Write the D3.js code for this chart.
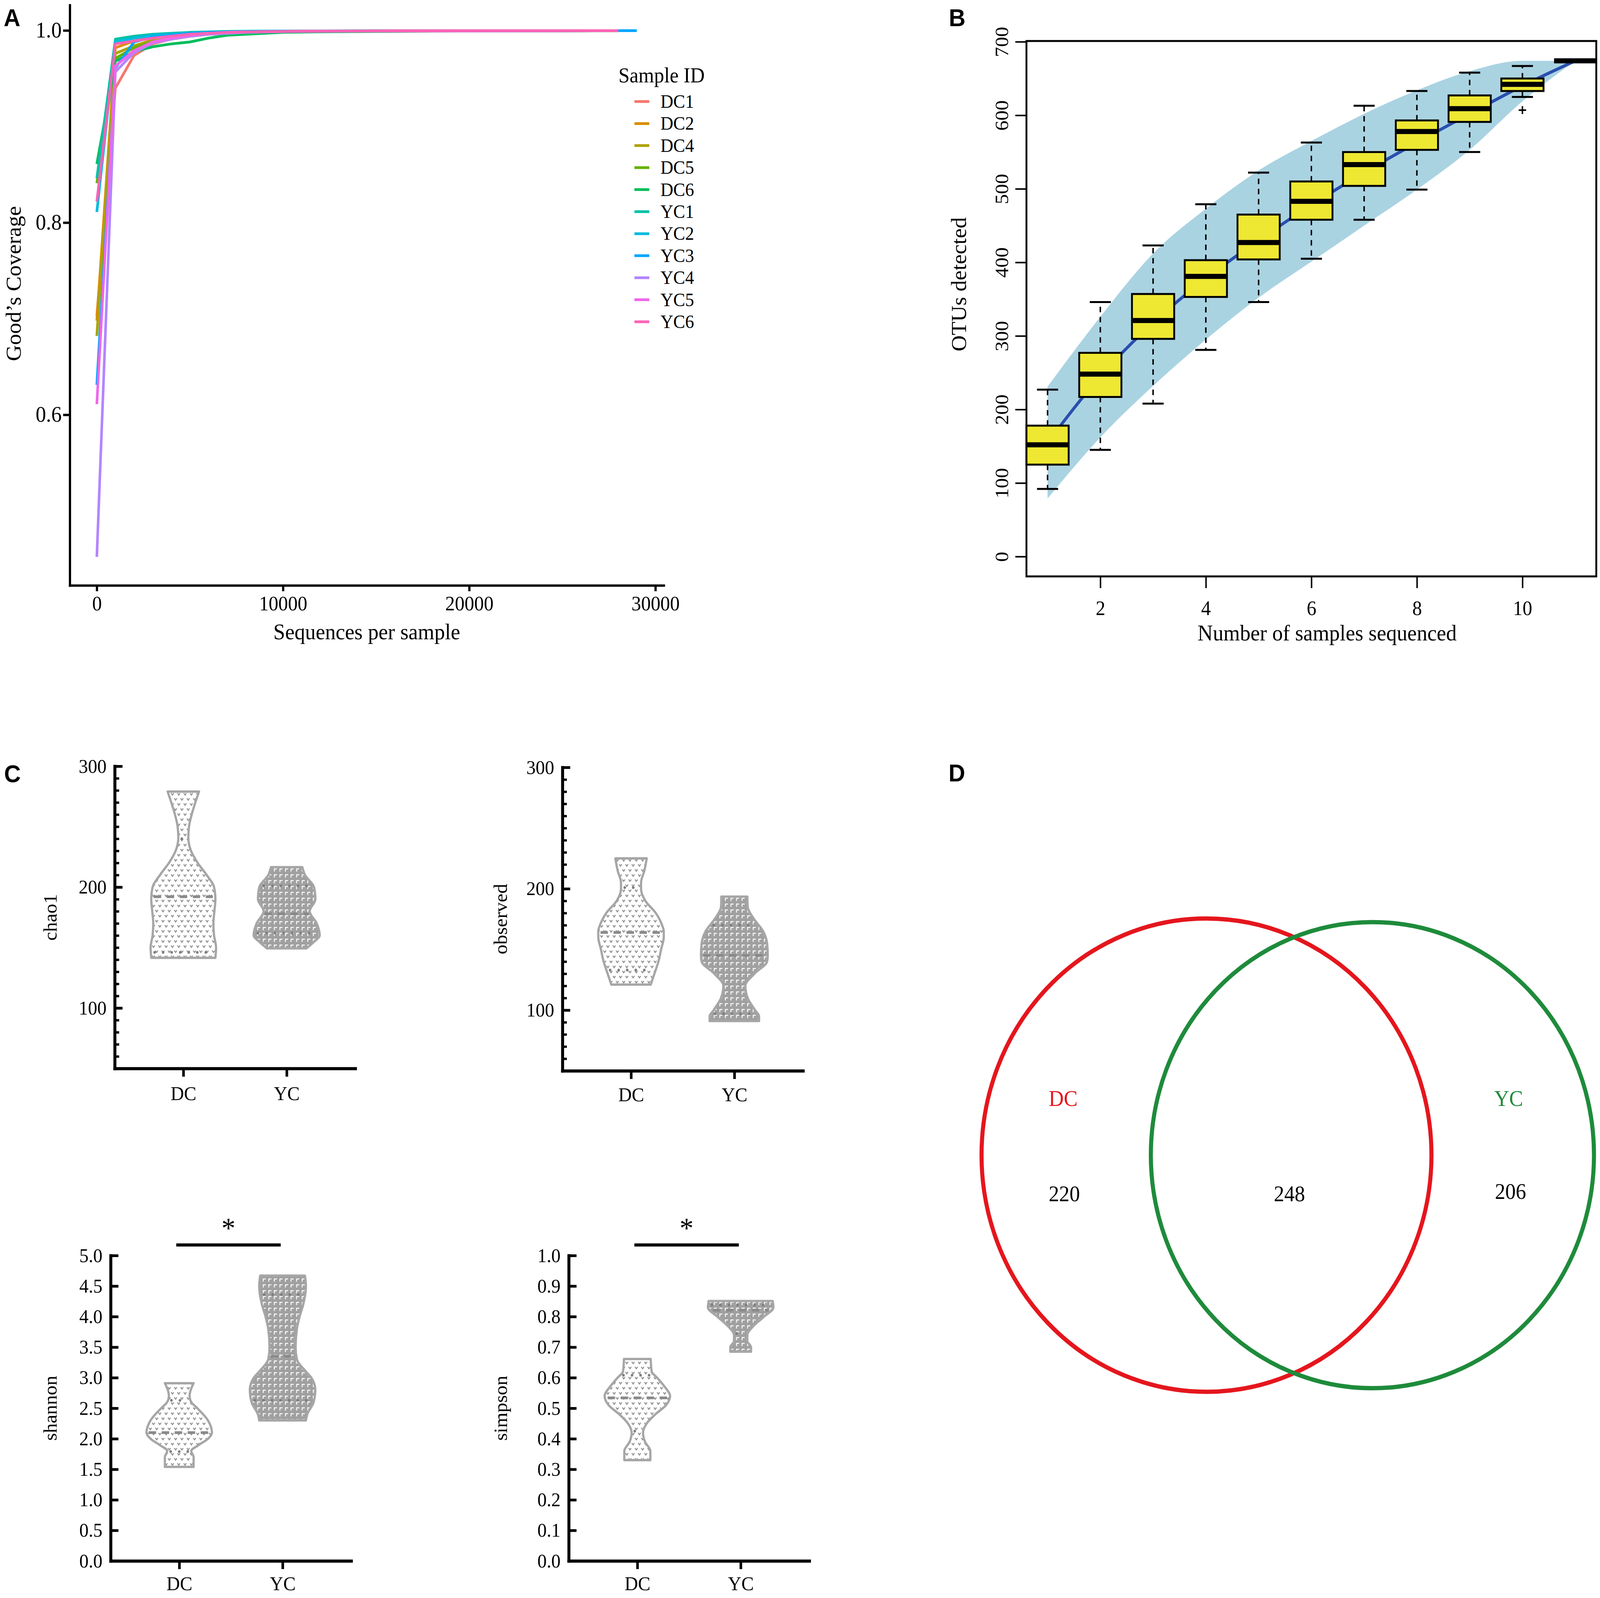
<!DOCTYPE html>
<html>
<head>
<meta charset="utf-8">
<title>Coverage, rarefaction, alpha diversity and Venn</title>
<script src="https://cdn.jsdelivr.net/npm/d3@7"></script>
<style>
  html, body { margin: 0; padding: 0; background: #fff; overflow: hidden; }
  #fig { display: block; width: 100vw; height: 100vh; }
  svg text { font-family: "Liberation Serif", "Times New Roman", serif; }
  svg text.letter { font-family: "Liberation Sans", Arial, sans-serif; font-weight: bold; }
</style>
</head>
<body>
<svg id="fig"></svg>
<script>
// ---------- panel A : Good's coverage ----------
const sampleIds = ['DC1','DC2','DC4','DC5','DC6','YC1','YC2','YC3','YC4','YC5','YC6'];
const sampleColors = ['#F8766D','#DB8E00','#AEA200','#64B200','#00BD5C','#00C1A7','#00BADE','#00A6FF','#B385FF','#EF67EB','#FF63B6'];
const depthsA = [1, 1000, 2000, 3000, 4000, 5000, 6000, 7000, 8000, 10000, 12000, 15000, 18000, 21000, 24000, 28000, 29000];
const cov_DC1 = [0.703, 0.940, 0.974, 0.986, 0.991, 0.994, 0.996, 0.997, 0.998, 0.9985, 0.999, 0.9992, 0.9994, 0.9995, 0.9996, 0.9997, null];
const cov_DC2 = [0.698, 0.982, 0.989, 0.993, 0.995, 0.997, 0.998, 0.9985, 0.999, 0.9992, 0.9994, 0.9995, 0.9996, 0.9997, 0.9997, 0.9998, null];
const cov_DC4 = [0.682, 0.976, 0.984, 0.990, 0.993, 0.995, 0.997, 0.998, 0.9985, 0.999, 0.9993, 0.9995, 0.9996, 0.9997, 0.9997, 0.9998, null];
const cov_DC5 = [0.841, 0.971, 0.982, 0.988, 0.991, 0.994, 0.996, 0.997, 0.998, 0.9988, 0.9992, 0.9994, 0.9995, 0.9996, 0.9997, 0.9998, null];
const cov_DC6 = [0.861, 0.968, 0.978, 0.983, 0.986, 0.988, 0.992, 0.995, 0.996, 0.998, 0.9986, 0.999, 0.9993, 0.9995, 0.9996, 0.9997, null];
const cov_YC1 = [0.846, 0.991, 0.994, 0.996, 0.997, 0.998, 0.9985, 0.999, 0.9992, 0.9994, 0.9995, 0.9996, 0.9997, 0.9997, 0.9998, 0.9998, null];
const cov_YC2 = [0.811, 0.988, 0.992, 0.995, 0.996, 0.997, 0.998, 0.9985, 0.999, 0.9992, 0.9994, 0.9995, 0.9996, 0.9997, 0.9997, 0.9998, null];
const cov_YC3 = [0.631, 0.961, 0.988, 0.993, 0.995, 0.997, 0.998, 0.9985, 0.999, 0.9992, 0.9994, 0.9995, 0.9996, 0.9997, 0.9997, 0.9998, 0.9998];
const cov_YC4 = [0.452, 0.957, 0.977, 0.987, 0.991, 0.994, 0.996, 0.997, 0.998, 0.9988, 0.9992, 0.9994, 0.9995, 0.9996, 0.9997, 0.9998, null];
const cov_YC5 = [0.611, 0.963, 0.979, 0.988, 0.992, 0.995, 0.997, 0.998, 0.9985, 0.999, 0.9993, 0.9995, 0.9996, 0.9997, 0.9997, 0.9998, null];
const cov_YC6 = [0.822, 0.986, 0.989, 0.992, 0.994, 0.996, 0.997, 0.998, 0.9985, 0.999, 0.9993, 0.9995, 0.9996, 0.9997, 0.9997, 0.9998, null];
const coverageRows = [cov_DC1, cov_DC2, cov_DC4, cov_DC5, cov_DC6, cov_YC1, cov_YC2, cov_YC3, cov_YC4, cov_YC5, cov_YC6];
const ticksAx = [0, 10000, 20000, 30000];
const ticksAy = [0.6, 0.8, 1.0];

// ---------- panel B : OTU accumulation boxplots ----------
const otuN          = [1, 2, 3, 4, 5, 6, 7, 8, 9, 10, 11];
const otuWhiskLow   = [92, 145, 208, 281, 346, 405, 458, 499, 550, 625, 674];
const otuQ1         = [125, 217, 296, 353, 404, 458, 504, 553, 591, 633, 674];
const otuMedian     = [152, 248, 321, 381, 427, 483, 533, 578, 609, 642, 674];
const otuQ3         = [178, 277, 357, 403, 465, 510, 550, 593, 627, 650, 674];
const otuWhiskHigh  = [227, 346, 423, 479, 522, 563, 613, 633, 658, 667, 674];
const otuOutliers   = [[10, 607]];
const otuMean       = [155, 245, 318, 378, 430, 478, 522, 563, 602, 640, 674];
const otuBandLow    = [79, 162, 232, 295, 352, 401, 450, 499, 553, 619, 674];
const otuBandHigh   = [231, 326, 412, 473, 525, 565, 602, 634, 660, 674, 674];
const ticksBx = [2, 4, 6, 8, 10];
const ticksBy = [0, 100, 200, 300, 400, 500, 600, 700];

// ---------- panel C : alpha diversity violins [value, relative density] ----------
const groupsC = ['DC', 'YC'];
const chao1DC = [[279,.47],[270,.36],[260,.25],[250,.17],[241,.15],[230,.23],[220,.43],[210,.70],[200,.92],[190,.96],[180,.93],[170,.90],[160,.92],[150,.98],[141.5,.96]];
const chao1YC = [[216.5,.47],[210,.55],[200,.82],[190,.86],[180,.69],[170,.90],[160,.99],[155,.83],[149.3,.59]];
const chao1Median = [192, 178];
const chao1Upper  = [240, 201];
const chao1Lower  = [146, 162];
const observedDC = [[225,.47],[215,.40],[205,.30],[200,.30],[190,.43],[180,.74],[170,.93],[165,.98],[160,.98],[150,.90],[140,.82],[130,.70],[121,.59]];
const observedYC = [[193.5,.39],[185,.40],[175,.59],[165,.86],[155,.98],[145,1.0],[140,.98],[130,.60],[120,.33],[110,.40],[100,.62],[95,.74],[91,.74]];
const observedMedian = [164, 145];
const observedUpper  = [201, 170];
const observedLower  = [133, 97];
const shannonDC = [[2.91,.43],[2.7,.31],[2.6,.36],[2.5,.54],[2.3,.86],[2.1,.98],[2.0,.86],[1.9,.59],[1.8,.36],[1.7,.43],[1.54,.43]];
const shannonYC = [[4.67,.67],[4.5,.70],[4.2,.62],[4.0,.51],[3.8,.43],[3.5,.39],[3.3,.43],[3.1,.70],[3.0,.86],[2.8,.98],[2.6,.93],[2.4,.74],[2.3,.70]];
const shannonMedian = [2.10, 3.35];
const shannonUpper  = [2.63, 4.36];
const shannonLower  = [1.79, 2.63];
const simpsonDC = [[.661,.40],[.62,.43],[.60,.59],[.57,.82],[.54,.98],[.51,.86],[.48,.54],[.45,.28],[.42,.17],[.39,.23],[.36,.39],[.33,.39]];
const simpsonYC = [[.851,.96],[.83,.98],[.80,.70],[.77,.39],[.74,.20],[.72,.20],[.70,.31],[.685,.31]];
const simpsonMedian = [.534, .821];
const simpsonUpper  = [.608, .838];
const simpsonLower  = [.425, .745];

// ---------- panel D : Venn ----------
const vennSets = ['DC', 'YC'];
const vennCounts = [220, 248, 206];   // DC only, shared, YC only

// drawing space is the reference's 4310 x 4092, stretched onto whatever the window gives
const W = 4310, H = 4092;
const svg = d3.select('#fig').attr('viewBox', `0 0 ${W} ${H}`).attr('preserveAspectRatio', 'none');

function styleAxis(g, fs, lw) {
  g.attr('font-size', fs).attr('font-family', null);
  g.select('.domain').attr('stroke-width', lw).attr('stroke-linecap', 'square');
  g.selectAll('.tick line').attr('stroke-width', lw);
  g.selectAll('.tick text').attr('fill', '#000');
}

svg.append('text').attr('class', 'letter').attr('x', 10).attr('y', 67).attr('font-size', 62).text('A');
svg.append('text').attr('class', 'letter').attr('x', 2556).attr('y', 67).attr('font-size', 62).text('B');
svg.append('text').attr('class', 'letter').attr('x', 11).attr('y', 2003).attr('font-size', 62).text('C');
svg.append('text').attr('class', 'letter').attr('x', 2555).attr('y', 2001).attr('font-size', 62).text('D');

// ================= A =================
const xA = d3.scaleLinear().domain([-1450, 30450]).range([188, 1788]);
const yA = d3.scaleLinear().domain([0.4224, 1.0264]).range([1499, 13]);
const seriesA = sampleIds.map((id, i) => ({
  id, color: sampleColors[i],
  values: coverageRows[i].map((v, j) => [depthsA[j], v])
}));
const lineA = d3.line().defined(d => d[1] != null).x(d => xA(d[0])).y(d => yA(d[1]));
const gA = svg.append('g');
gA.selectAll('path.cov').data(seriesA).join('path')
  .attr('class', 'cov')
  .attr('d', d => lineA(d.values))
  .attr('fill', 'none')
  .attr('stroke', d => d.color)
  .attr('stroke-width', 7)
  .attr('stroke-linejoin', 'round');

gA.append('g').attr('transform', `translate(0,${yA.range()[0]})`)
  .call(d3.axisBottom(xA).tickValues(ticksAx).tickFormat(d3.format('d')).tickSize(15).tickSizeOuter(0).tickPadding(12))
  .call(styleAxis, 52, 6);
gA.append('g').attr('transform', `translate(${xA.range()[0]},0)`)
  .call(d3.axisLeft(yA).tickValues(ticksAy).tickFormat(d3.format('.1f')).tickSize(18).tickSizeOuter(0).tickPadding(4))
  .call(styleAxis, 56, 6);

gA.append('text').attr('x', 988).attr('y', 1637).attr('text-anchor', 'middle').attr('font-size', 57).text('Sequences per sample');
gA.append('text').attr('transform', 'translate(56,726) rotate(-90)').attr('text-anchor', 'middle').attr('font-size', 57).text('Good\u2019s Coverage');

const legA = gA.append('g').attr('transform', 'translate(1666,0)');
legA.append('text').attr('x', 0).attr('y', 211).attr('font-size', 54).text('Sample ID');
const legItems = legA.selectAll('g.item').data(seriesA).join('g')
  .attr('class', 'item')
  .attr('transform', (d, i) => `translate(0,${260 + i * 56.4})`);
legItems.append('line').attr('x1', 43).attr('x2', 83).attr('stroke', d => d.color).attr('stroke-width', 7);
legItems.append('text').attr('x', 113).attr('y', 16).attr('font-size', 48).text(d => d.id);

// ================= B =================
const xB = d3.scaleLinear().domain([0.6, 11.4]).range([2765, 4300]);
const yB = d3.scaleLinear().domain([-27, 701]).range([1476, 105]);
const gB = svg.append('g');
const bandData = otuN.map((n, i) => [n, otuBandLow[i], otuBandHigh[i]]);
gB.append('path').datum(bandData)
  .attr('d', d3.area().x(d => xB(d[0])).y0(d => yB(d[1])).y1(d => yB(d[2])).curve(d3.curveMonotoneX))
  .attr('fill', '#aad3e2');
gB.append('path').datum(otuN.map((n, i) => [n, otuMean[i]]))
  .attr('d', d3.line().x(d => xB(d[0])).y(d => yB(d[1])).curve(d3.curveMonotoneX))
  .attr('fill', 'none').attr('stroke', '#2a4fae').attr('stroke-width', 8);

const boxes = otuN.map((n, i) => ({ n, lo: otuWhiskLow[i], q1: otuQ1[i], med: otuMedian[i], q3: otuQ3[i], hi: otuWhiskHigh[i] }));
const bw = xB(1.4) - xB(1);
const cw = xB(1.2) - xB(1);
const bx = gB.selectAll('g.box').data(boxes).join('g').attr('class', 'box');
bx.append('line').attr('x1', d => xB(d.n)).attr('x2', d => xB(d.n)).attr('y1', d => yB(d.q3)).attr('y2', d => yB(d.hi))
  .attr('stroke', '#000').attr('stroke-width', 4).attr('stroke-dasharray', '14 12');
bx.append('line').attr('x1', d => xB(d.n)).attr('x2', d => xB(d.n)).attr('y1', d => yB(d.q1)).attr('y2', d => yB(d.lo))
  .attr('stroke', '#000').attr('stroke-width', 4).attr('stroke-dasharray', '14 12');
bx.append('line').attr('x1', d => xB(d.n) - cw).attr('x2', d => xB(d.n) + cw).attr('y1', d => yB(d.hi)).attr('y2', d => yB(d.hi))
  .attr('stroke', '#000').attr('stroke-width', 5);
bx.append('line').attr('x1', d => xB(d.n) - cw).attr('x2', d => xB(d.n) + cw).attr('y1', d => yB(d.lo)).attr('y2', d => yB(d.lo))
  .attr('stroke', '#000').attr('stroke-width', 5);
bx.append('rect').attr('x', d => xB(d.n) - bw).attr('width', 2 * bw)
  .attr('y', d => yB(d.q3)).attr('height', d => yB(d.q1) - yB(d.q3))
  .attr('fill', '#eee832').attr('stroke', '#000').attr('stroke-width', 5);
bx.append('line').attr('x1', d => xB(d.n) - bw).attr('x2', d => xB(d.n) + bw).attr('y1', d => yB(d.med)).attr('y2', d => yB(d.med))
  .attr('stroke', '#000').attr('stroke-width', 13);
gB.selectAll('path.out').data(otuOutliers).join('path')
  .attr('class', 'out')
  .attr('d', d => `M${xB(d[0]) - 10},${yB(d[1])}h20M${xB(d[0])},${yB(d[1]) - 10}v20`)
  .attr('stroke', '#000').attr('stroke-width', 4);

gB.append('rect').attr('x', xB.range()[0]).attr('y', yB.range()[1])
  .attr('width', xB.range()[1] - xB.range()[0]).attr('height', yB.range()[0] - yB.range()[1])
  .attr('fill', 'none').attr('stroke', '#000').attr('stroke-width', 5);

const gyB = gB.append('g').attr('transform', `translate(${xB.range()[0]},0)`)
  .call(d3.axisLeft(yB).tickValues(ticksBy).tickSize(30).tickSizeOuter(0))
  .call(styleAxis, 52, 4);
gyB.select('.domain').remove();
gyB.selectAll('.tick text').attr('x', 0).attr('dy', 0).attr('text-anchor', 'middle').attr('transform', 'translate(-49,0) rotate(-90)');
const gxB = gB.append('g').attr('transform', `translate(0,${yB.range()[0]})`)
  .call(d3.axisBottom(xB).tickValues(ticksBx).tickSize(30).tickSizeOuter(0).tickPadding(32))
  .call(styleAxis, 52, 4);
gxB.select('.domain').remove();

gB.append('text').attr('x', 3575).attr('y', 1640).attr('text-anchor', 'middle').attr('font-size', 57).text('Number of samples sequenced');
gB.append('text').attr('transform', 'translate(2602,728) rotate(-90)').attr('text-anchor', 'middle').attr('font-size', 57).text('OTUs detected');

// ================= C =================
const defs = svg.append('defs');
const pDC = defs.append('pattern').attr('id', 'patDC').attr('patternUnits', 'userSpaceOnUse').attr('width', 17).attr('height', 26);
pDC.append('rect').attr('width', 17).attr('height', 26).attr('fill', '#fff');
pDC.append('path').attr('d', 'M2,3 L5.5,8 L9,3 M10.5,16 L14,21 L17.5,16 M-6.5,16 L-3,21 L0.5,16')
  .attr('stroke', '#8f8f8f').attr('stroke-width', 2.6).attr('fill', 'none');
const pYC = defs.append('pattern').attr('id', 'patYC').attr('patternUnits', 'userSpaceOnUse').attr('width', 15).attr('height', 15);
pYC.append('rect').attr('width', 15).attr('height', 15).attr('fill', '#a0a0a0');
pYC.append('path').attr('d', 'M4,12 V5 H11').attr('stroke', '#fff').attr('stroke-width', 2.4).attr('fill', 'none');

const violinCharts = [
  { label: 'chao1', x0: 309, yTop: 1962, yBot: 2736, domain: [50, 300], major: [100, 200, 300], minor: d3.range(50, 301, 10), fmt: d3.format('d'),
    profiles: [chao1DC, chao1YC], med: chao1Median, up: chao1Upper, lo: chao1Lower, titleX: 153, pad: 25, sig: false },
  { label: 'observed', x0: 1515, yTop: 1965, yBot: 2742, domain: [50, 300], major: [100, 200, 300], minor: d3.range(50, 301, 10), fmt: d3.format('d'),
    profiles: [observedDC, observedYC], med: observedMedian, up: observedUpper, lo: observedLower, titleX: 1366, pad: 22, sig: false },
  { label: 'shannon', x0: 298, yTop: 3215, yBot: 3997, domain: [0, 5], major: d3.range(0, 5.01, 0.5), minor: [], fmt: d3.format('.1f'),
    profiles: [shannonDC, shannonYC], med: shannonMedian, up: shannonUpper, lo: shannonLower, titleX: 153, pad: 19, sig: true },
  { label: 'simpson', x0: 1532, yTop: 3215, yBot: 3997, domain: [0, 1], major: d3.range(0, 1.001, 0.1), minor: [], fmt: d3.format('.1f'),
    profiles: [simpsonDC, simpsonYC], med: simpsonMedian, up: simpsonUpper, lo: simpsonLower, titleX: 1366, pad: 19, sig: true }
];

function densityAt(profile, v) {
  for (let i = 0; i < profile.length - 1; i++) {
    const [v0, d0] = profile[i], [v1, d1] = profile[i + 1];
    if (v <= v0 && v >= v1) return d0 + (d1 - d0) * (v - v0) / (v1 - v0);
  }
  return profile[profile.length - 1][1];
}

const wC = d3.scaleLinear().domain([0, 1]).range([0, 90]);

violinCharts.forEach(c => {
  const g = svg.append('g');
  const yC = d3.scaleLinear().domain(c.domain).range([c.yBot, c.yTop]);
  const xG = d3.scalePoint().domain(groupsC).range([c.x0, c.x0 + 648]).padding(0.664);

  groupsC.forEach((grp, k) => {
    const prof = c.profiles[k];
    const cx = xG(grp);
    const area = d3.area()
      .y(d => yC(d[0]))
      .x0(d => cx - wC(d[1]))
      .x1(d => cx + wC(d[1]))
      .curve(d3.curveMonotoneY);
    g.append('path').attr('d', area(prof))
      .attr('fill', k === 0 ? 'url(#patDC)' : 'url(#patYC)')
      .attr('stroke', '#a6a6a6').attr('stroke-width', 6).attr('stroke-linejoin', 'round');
    const hl = (v, inset) => ({ x1: cx - wC(densityAt(prof, v)) + inset, x2: cx + wC(densityAt(prof, v)) - inset, y: yC(v) });
    [c.up[k], c.lo[k]].forEach(v => {
      const s = hl(v, 10);
      if (s.x2 > s.x1) g.append('line').attr('x1', s.x1).attr('x2', s.x2).attr('y1', s.y).attr('y2', s.y)
        .attr('stroke', '#7f7f7f').attr('stroke-width', 7).attr('stroke-linecap', 'round').attr('stroke-dasharray', '0 23');
    });
    const m = hl(c.med[k], 6);
    g.append('line').attr('x1', m.x1).attr('x2', m.x2).attr('y1', m.y).attr('y2', m.y)
      .attr('stroke', '#8a8a8a').attr('stroke-width', 7).attr('stroke-dasharray', '20 15');
  });

  const gy = g.append('g').attr('transform', `translate(${c.x0},0)`)
    .call(d3.axisLeft(yC).tickValues(c.major).tickFormat(c.fmt).tickSize(-21).tickSizeOuter(0).tickPadding(22))
    .call(styleAxis, 50, 7);
  gy.select('.domain').attr('stroke-width', 8);
  if (c.minor.length) {
    const gm = g.append('g').attr('transform', `translate(${c.x0},0)`)
      .call(d3.axisLeft(yC).tickValues(c.minor.filter(v => !c.major.includes(v))).tickFormat('').tickSize(-12));
    gm.select('.domain').remove();
    gm.selectAll('.tick line').attr('stroke-width', 6);
  }
  const gx = g.append('g').attr('transform', `translate(0,${c.yBot})`)
    .call(d3.axisBottom(xG).tickSize(21).tickSizeOuter(0).tickPadding(c.pad))
    .call(styleAxis, 50, 7);
  gx.select('.domain').attr('stroke-width', 8);

  g.append('text').attr('transform', `translate(${c.titleX},${(c.yTop + c.yBot) / 2}) rotate(-90)`)
    .attr('text-anchor', 'middle').attr('font-size', 50).text(c.label);

  if (c.sig) {
    const x1 = xG('DC') - 8, x2 = xG('YC') - 5;
    g.append('line').attr('x1', x1).attr('x2', x2).attr('y1', 3188).attr('y2', 3188).attr('stroke', '#000').attr('stroke-width', 8);
    g.append('text').attr('x', (x1 + x2) / 2).attr('y', 3170).attr('text-anchor', 'middle').attr('font-size', 75).text('*');
  }
});

// ================= D =================
const totalDC = vennCounts[0] + vennCounts[1];
const totalYC = vennCounts[1] + vennCounts[2];
const rScale = d3.scaleSqrt().domain([0, totalDC]).range([0, 606]);
const r1 = rScale(totalDC), r2 = rScale(totalYC);
function lens(a, b, d) {
  const t1 = Math.acos((d * d + a * a - b * b) / (2 * d * a));
  const t2 = Math.acos((d * d + b * b - a * a) / (2 * d * b));
  const k = Math.sqrt((-d + a + b) * (d + a - b) * (d - a + b) * (d + a + b));
  return a * a * t1 + b * b * t2 - 0.5 * k;
}
const target = Math.PI * r1 * r1 * vennCounts[1] / totalDC;
let lo = Math.abs(r1 - r2) + 1e-6, hi = r1 + r2 - 1e-6;
for (let i = 0; i < 60; i++) {
  const mid = (lo + hi) / 2;
  if (lens(r1, r2, mid) > target) lo = mid; else hi = mid;
}
const dist = (lo + hi) / 2;
const cxDC = 2644 + r1, cy = 2958, cxYC = cxDC + dist;
const gD = svg.append('g');
gD.append('circle').attr('cx', cxDC).attr('cy', cy).attr('r', r1).attr('fill', 'none').attr('stroke', '#e5161d').attr('stroke-width', 11);
gD.append('circle').attr('cx', cxYC).attr('cy', cy).attr('r', r2).attr('fill', 'none').attr('stroke', '#1e8b3b').attr('stroke-width', 11);
gD.append('text').attr('x', cxDC - 386).attr('y', cy - 126).attr('text-anchor', 'middle').attr('font-size', 56).attr('fill', '#e5161d').text(vennSets[0]);
gD.append('text').attr('x', cxYC + 367).attr('y', cy - 126).attr('text-anchor', 'middle').attr('font-size', 56).attr('fill', '#1e8b3b').text(vennSets[1]);
gD.append('text').attr('x', cxDC - 383).attr('y', cy + 118).attr('text-anchor', 'middle').attr('font-size', 56).text(vennCounts[0]);
gD.append('text').attr('x', (cxDC + cxYC) / 2).attr('y', cy + 118).attr('text-anchor', 'middle').attr('font-size', 56).text(vennCounts[1]);
gD.append('text').attr('x', cxYC + 372).attr('y', cy + 112).attr('text-anchor', 'middle').attr('font-size', 56).text(vennCounts[2]);
</script>
</body>
</html>
